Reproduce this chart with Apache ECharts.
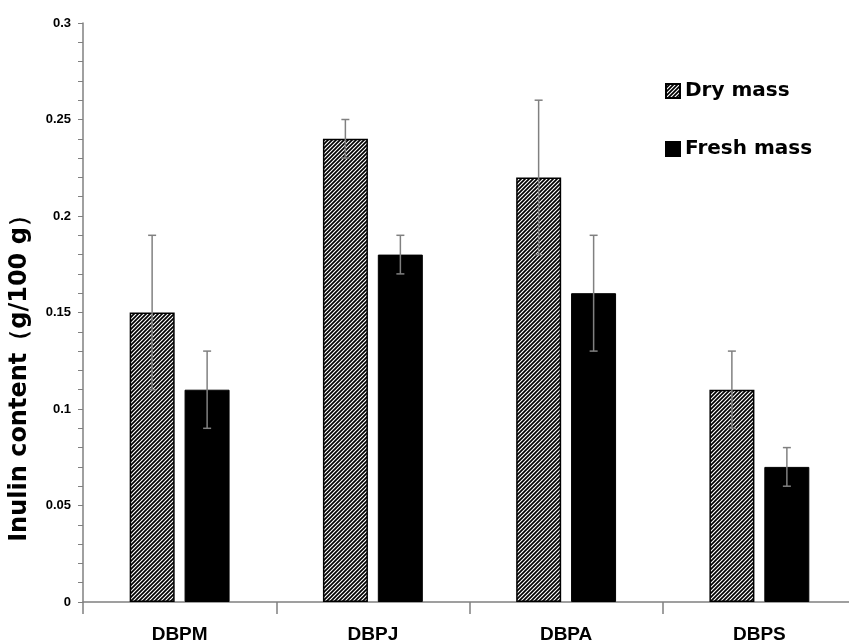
<!DOCTYPE html>
<html>
<head>
<meta charset="utf-8">
<script src="https://cdn.jsdelivr.net/npm/echarts@6/dist/echarts.min.js"></script>
<style>
html,body{margin:0;padding:0;background:#fff;}
#chart{width:849px;height:644px;}
</style>
</head>
<body>
<div id="chart"></div>
<script>
const categories = ['DBPM', 'DBPJ', 'DBPA', 'DBPS'];
const seriesNames = ['Dry mass', 'Fresh mass'];
const dryMass = [0.15, 0.24, 0.22, 0.11];
const dryErr = [0.04, 0.01, 0.04, 0.02];
const freshMass = [0.11, 0.18, 0.16, 0.07];
const freshErr = [0.02, 0.01, 0.03, 0.01];
const yMin = 0, yMax = 0.3, yStep = 0.01;

// hatch pattern
function makeHatch() {
  const c = document.createElement('canvas');
  c.width = 4; c.height = 4;
  const g = c.getContext('2d');
  g.fillStyle = '#ffffff';
  g.fillRect(0, 0, 4, 4);
  g.strokeStyle = '#000000';
  g.lineWidth = 1.7;
  g.beginPath();
  g.moveTo(-1, 5); g.lineTo(5, -1);
  g.moveTo(-3, 3); g.lineTo(3, -3);
  g.moveTo(1, 7); g.lineTo(7, 1);
  g.stroke();
  return c;
}
const hatch = { image: makeHatch(), repeat: 'repeat' };

const BAR_W = 45;
const OFFSET = 27.5;

function errSeries(name, vals, errs, sign) {
  const data = vals.map((v, i) => [i, v - errs[i], v + errs[i]]);
  return {
    type: 'custom',
    name: name + ' err',
    z: 10,
    silent: true,
    data: data,
    renderItem: function (params, api) {
      const i = api.value(0);
      const lo = api.coord([i, api.value(1)]);
      const hi = api.coord([i, api.value(2)]);
      const x = lo[0] + sign * OFFSET;
      const cap = 4;
      const st = { stroke: '#808080', lineWidth: 1.5 };
      return {
        type: 'group',
        children: [
          { type: 'line', shape: { x1: x, y1: lo[1], x2: x, y2: hi[1] }, style: st },
          { type: 'line', shape: { x1: x - cap, y1: hi[1], x2: x + cap, y2: hi[1] }, style: st },
          { type: 'line', shape: { x1: x - cap, y1: lo[1], x2: x + cap, y2: lo[1] }, style: st }
        ]
      };
    }
  };
}

const chart = echarts.init(document.getElementById('chart'), null, { renderer: 'canvas' });
chart.setOption({
  animation: false,
  backgroundColor: '#ffffff',
  grid: { left: 83, right: -7, top: 23, bottom: 42, containLabel: false, outerBoundsMode: 'none' },
  legend: {
    orient: 'vertical',
    left: 660,
    top: 75,
    itemWidth: 14,
    itemHeight: 14,
    itemGap: 36,
    icon: 'rect',
    data: seriesNames,
    textStyle: { fontFamily: 'DejaVu Sans', fontWeight: 'bold', fontSize: 20, color: '#000', lineHeight: 22 }
  },
  xAxis: {
    type: 'category',
    data: categories,
    boundaryGap: true,
    axisLine: { lineStyle: { color: '#808080', width: 1.5 } },
    axisTick: { show: true, length: 12, lineStyle: { color: '#808080', width: 1.5 } },
    axisLabel: {
      margin: 23,
      fontFamily: '"Liberation Sans Narrow", "Liberation Sans", Arial, sans-serif',
      fontWeight: 'bold',
      fontSize: 19,
      color: '#000'
    }
  },
  yAxis: {
    type: 'value',
    min: yMin,
    max: yMax,
    interval: yStep,
    name: 'Inulin content（g/100 g）',
    nameLocation: 'middle',
    nameGap: 51,
    nameTextStyle: { fontFamily: '"DejaVu Sans", sans-serif', fontWeight: 'bold', fontSize: 24, color: '#000', padding: [0, 120, 0, 0] },
    splitLine: { show: false },
    axisLine: { show: true, lineStyle: { color: '#808080', width: 1.5 } },
    axisTick: { show: true, length: 5, lineStyle: { color: '#808080', width: 1 } },
    axisLabel: {
      margin: 12,
      fontFamily: '"Liberation Sans", Arial, sans-serif',
      fontWeight: 'bold',
      fontSize: 13,
      color: '#000',
      formatter: function (v) {
        const r = Math.round(v * 100);
        if (r % 5 !== 0) return '';
        return String(parseFloat(v.toFixed(2)));
      }
    }
  },
  series: [
    {
      name: seriesNames[0],
      type: 'bar',
      data: dryMass,
      barWidth: BAR_W,
      barGap: '22%',
      itemStyle: { color: hatch, borderColor: '#000', borderWidth: 1.5 }
    },
    {
      name: seriesNames[1],
      type: 'bar',
      data: freshMass,
      barWidth: BAR_W,
      itemStyle: { color: '#000000', borderColor: '#000', borderWidth: 1 }
    },
    errSeries(seriesNames[0], dryMass, dryErr, -1),
    errSeries(seriesNames[1], freshMass, freshErr, 1)
  ]
});
</script>
</body>
</html>
